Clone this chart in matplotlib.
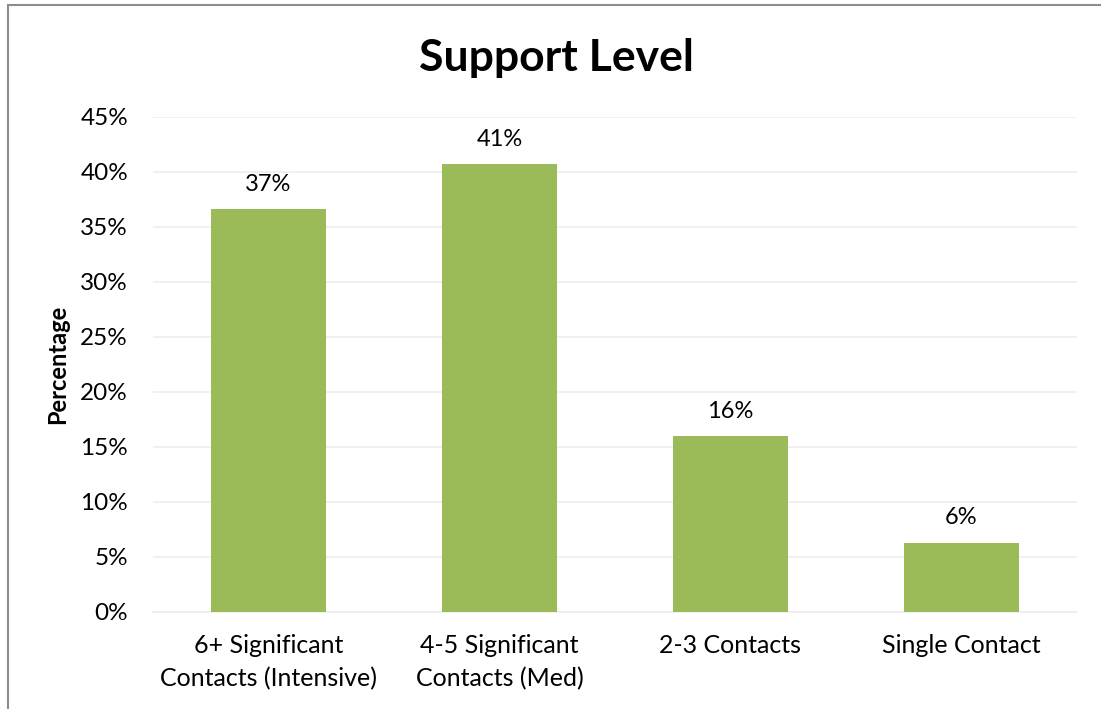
import matplotlib
matplotlib.use("Agg")
import matplotlib.pyplot as plt
from matplotlib.lines import Line2D
from matplotlib.ticker import PercentFormatter

categories = ["6+ Significant\nContacts (Intensive)", "4-5 Significant\nContacts (Med)", "2-3 Contacts", "Single Contact"]
values = [36.6, 40.7, 16.0, 6.3]
labels = ["37%", "41%", "16%", "6%"]
yticks = [0, 5, 10, 15, 20, 25, 30, 35, 40, 45]

plt.rcParams['font.family'] = ['Lato', 'DejaVu Sans']

fig = plt.figure(figsize=(11.01, 7.09), dpi=100)
ax = fig.add_axes([0.139, 0.137, 0.839, 0.698])

x = range(len(categories))
bars = ax.bar(x, values, width=0.5, color="#9BBB59", zorder=3)
for b, lab in zip(bars, labels):
    ax.text(b.get_x() + b.get_width() / 2, b.get_height() + 1.3, lab,
            ha="center", va="bottom", fontsize=17, color="#000000")

ax.set_ylim(0, 45)
ax.set_xlim(-0.5, len(categories) - 0.5)
ax.set_yticks(yticks)
ax.yaxis.set_major_formatter(PercentFormatter(decimals=0))
ax.set_xticks(list(x))
ax.set_xticklabels(categories, fontsize=18, linespacing=1.5)
ax.tick_params(axis="y", labelsize=17.5, length=0, pad=18)
ax.tick_params(axis="x", length=0, pad=16)
ax.grid(axis="y", color="#EDEDED", linewidth=1.2, zorder=0)
for s in ["top", "right", "left"]:
    ax.spines[s].set_visible(False)
ax.spines["bottom"].set_color("#EDEDED")
ax.spines["bottom"].set_linewidth(1.2)

ax.set_ylabel("Percentage", fontsize=17, fontweight="bold", labelpad=8)
fig.text(0.505, 0.918, "Support Level", ha="center", va="center", fontsize=32, fontweight="bold")

# outer chart border (partially visible)
fig.add_artist(Line2D([8/1101, 8/1101], [0, 1 - 5/709], transform=fig.transFigure, color="#8C8C8C", linewidth=1.5))
fig.add_artist(Line2D([8/1101, 1], [1 - 5/709, 1 - 5/709], transform=fig.transFigure, color="#8C8C8C", linewidth=1.5))

fig.savefig("out.png", dpi=100)
